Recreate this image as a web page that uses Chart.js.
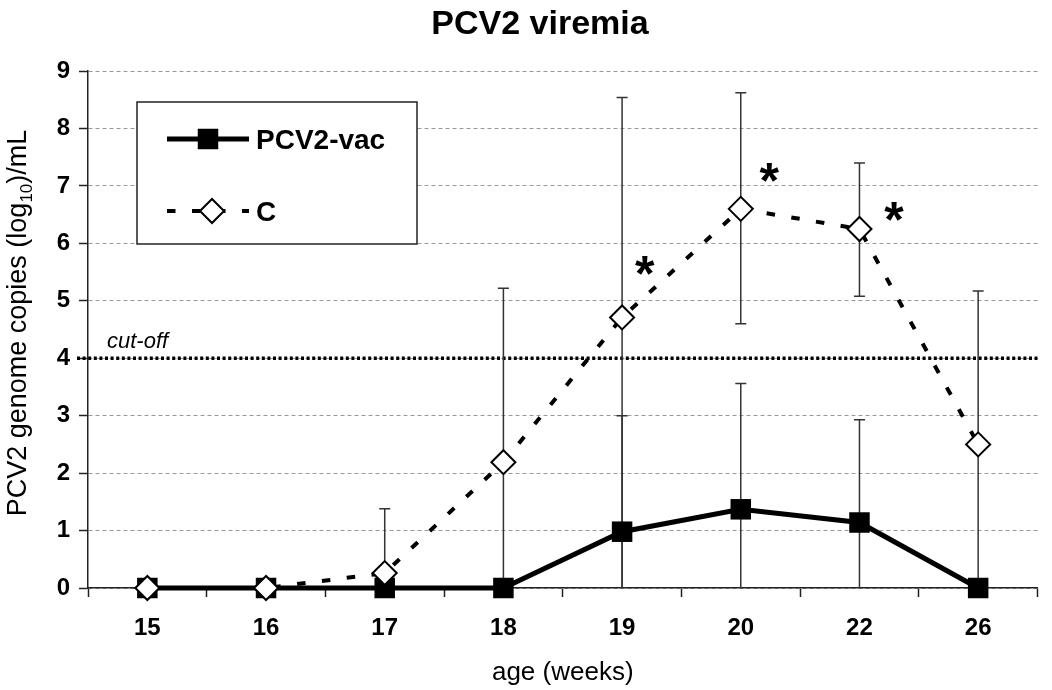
<!DOCTYPE html>
<html>
<head>
<meta charset="utf-8">
<script src="https://cdn.jsdelivr.net/npm/chart.js@4.4.1/dist/chart.umd.min.js"></script>
<style>
    html, body { margin: 0; padding: 0; background: #fff; }
    #wrap { width: 1052px; height: 690px; }
</style>
</head>
<body>
<div id="wrap"><canvas id="viremiaChart" width="1052" height="690"></canvas></div>
<script>
// values (log10 copies / mL)
const weeks = ["15", "16", "17", "18", "19", "20", "22", "26"];
const vacMean = [0, 0, 0, 0, 0.98, 1.37, 1.14, 0];
const vacHigh = [null, null, null, null, 3.0, 3.56, 2.93, null];
const vacLow = [null, null, null, null, 0, 0, 0, null];
const ctrlMean = [0, 0, 0.26, 2.19, 4.71, 6.60, 6.25, 2.50];
const ctrlHigh = [null, null, 1.38, 5.22, 8.54, 8.62, 7.40, 5.17];
const ctrlLow = [null, null, 0, 0, 0, 4.60, 5.08, 0];
const yTicks = [0, 1, 2, 3, 4, 5, 6, 7, 8, 9];
const cutOff = 4;
// significance marks, x in category units
const starX = [4.19, 5.24, 6.29];
const starY = [5.65, 7.28, 6.60];

const FONT = "'Liberation Sans', Arial, sans-serif";

const errorBars = {
    id: "errorBars",
    beforeDatasetsDraw(chart) {
        const ctx = chart.ctx;
        const xs = chart.scales.x, ys = chart.scales.y;
        const area = chart.chartArea;

        // cut-off line
        ctx.save();
        ctx.strokeStyle = "#000";
        ctx.lineWidth = 3.5;
        ctx.setLineDash([3, 2.6]);
        const cy = ys.getPixelForValue(cutOff);
        ctx.beginPath();
        ctx.moveTo(area.left - 11, cy);
        ctx.lineTo(area.right, cy);
        ctx.stroke();
        ctx.setLineDash([]);
        ctx.fillStyle = "#000";
        ctx.font = "italic 22px " + FONT;
        ctx.textBaseline = "alphabetic";
        ctx.fillText("cut-off", area.left + 19, cy - 10);
        ctx.restore();

        ctx.save();
        ctx.strokeStyle = "#333";
        ctx.lineWidth = 1.5;
        const draw = (means, highs, lows) => {
            means.forEach((m, i) => {
                const px = xs.getPixelForValue(i);
                const py = ys.getPixelForValue(m);
                [highs[i], lows[i]].forEach(v => {
                    if (v == null) return;
                    const ey = ys.getPixelForValue(v);
                    ctx.beginPath();
                    ctx.moveTo(px, py);
                    ctx.lineTo(px, ey);
                    if (v > 0) {
                        ctx.moveTo(px - 5.5, ey);
                        ctx.lineTo(px + 5.5, ey);
                    }
                    ctx.stroke();
                });
            });
        };
        draw(vacMean, vacHigh, vacLow);
        draw(ctrlMean, ctrlHigh, ctrlLow);
        ctx.restore();
    },
    afterDatasetsDraw(chart) {
        const ctx = chart.ctx;
        const xs = chart.scales.x, ys = chart.scales.y;
        ctx.save();
        ctx.fillStyle = "#000";
        ctx.font = "bold 50px " + FONT;
        ctx.textAlign = "center";
        ctx.textBaseline = "alphabetic";
        starX.forEach((sx, i) => {
            ctx.fillText("*", xs.getPixelForValue(sx), ys.getPixelForValue(starY[i]) + 28);
        });
        ctx.restore();
    }
};

const decorations = {
    id: "decorations",
    afterDraw(chart) {
        const ctx = chart.ctx;
        const area = chart.chartArea;
        ctx.save();
        ctx.fillStyle = "#000";

        // title
        ctx.font = "bold 34px " + FONT;
        ctx.textAlign = "center";
        ctx.textBaseline = "alphabetic";
        ctx.fillText("PCV2 viremia", 540, 34);

        // x title
        ctx.font = "26px " + FONT;
        ctx.fillText("age (weeks)", (area.left + area.right) / 2, 680);

        // y title with subscript
        const parts = [["PCV2 genome copies (log", 27, 0], ["10", 17, 6], [")/mL", 27, 0]];
        let total = 0;
        parts.forEach(p => { ctx.font = p[1] + "px " + FONT; total += ctx.measureText(p[0]).width; });
        ctx.translate(26, 323);
        ctx.rotate(-Math.PI / 2);
        ctx.textAlign = "left";
        let tx = -total / 2;
        parts.forEach(p => {
            ctx.font = p[1] + "px " + FONT;
            ctx.fillText(p[0], tx, p[2]);
            tx += ctx.measureText(p[0]).width;
        });
        ctx.setTransform(1, 0, 0, 1, 0, 0);

        // legend
        const bx = 137, by = 102, bw = 280, bh = 142;
        ctx.fillStyle = "#fff";
        ctx.fillRect(bx, by, bw, bh);
        ctx.strokeStyle = "#222";
        ctx.lineWidth = 1.5;
        ctx.strokeRect(bx, by, bw, bh);

        const rows = [
            { ds: chart.data.datasets[1], y: 139, mx: 208, dashOffset: 0 },
            { ds: chart.data.datasets[0], y: 211, mx: 212, dashOffset: 0 }
        ];
        rows.forEach(r => {
            ctx.save();
            ctx.strokeStyle = r.ds.borderColor;
            ctx.lineWidth = r.ds.borderWidth;
            ctx.setLineDash(r.ds.borderDash || []);
            ctx.lineDashOffset = r.dashOffset;
            ctx.beginPath();
            ctx.moveTo(167, r.y);
            ctx.lineTo(249, r.y);
            ctx.stroke();
            ctx.restore();

            ctx.save();
            ctx.fillStyle = r.ds.pointBackgroundColor;
            ctx.strokeStyle = r.ds.pointBorderColor;
            ctx.lineWidth = r.ds.pointBorderWidth;
            Chart.helpers.drawPoint(ctx, {
                pointStyle: r.ds.pointStyle,
                radius: r.ds.pointRadius,
                borderWidth: r.ds.pointBorderWidth,
                rotation: 0
            }, r.mx, r.y);
            ctx.restore();

            ctx.save();
            ctx.fillStyle = "#000";
            ctx.font = "bold 28px " + FONT;
            ctx.textBaseline = "alphabetic";
            ctx.fillText(r.ds.label, 256, r.y + 10);
            ctx.restore();
        });
        ctx.restore();
    }
};

const ctx = document.getElementById("viremiaChart").getContext("2d");
window.viremiaChart = new Chart(ctx, {
    type: "line",
    data: {
        labels: weeks,
        datasets: [
            {
                label: "C",
                data: ctrlMean,
                borderColor: "#000",
                borderWidth: 4,
                borderDash: [8.5, 16.5],
                pointStyle: "rectRot",
                pointRadius: 12,
                pointBackgroundColor: "#fff",
                pointBorderColor: "#000",
                pointBorderWidth: 2,
                tension: 0,
                clip: false
            },
            {
                label: "PCV2-vac",
                data: vacMean,
                borderColor: "#000",
                borderWidth: 5,
                pointStyle: "rect",
                pointRadius: 14.5,
                pointBackgroundColor: "#000",
                pointBorderColor: "#000",
                pointBorderWidth: 0,
                tension: 0,
                clip: false
            }
        ]
    },
    options: {
        responsive: false,
        animation: false,
        layout: { padding: { left: 0, top: 71, right: 5, bottom: 0 } },
        plugins: {
            legend: { display: false },
            tooltip: { enabled: false },
            title: { display: false }
        },
        scales: {
            x: {
                type: "category",
                offset: true,
                afterFit: s => { s.height = 102; },
                grid: { display: true, drawOnChartArea: false, offset: true, tickLength: 9, tickColor: "#222", tickWidth: 1.5 },
                border: { color: "#222", width: 1.5 },
                ticks: { color: "#000", font: { family: FONT, size: 24, weight: "bold" }, padding: 17 }
            },
            y: {
                min: 0,
                max: 9,
                afterFit: s => { s.width = 88; },
                afterBuildTicks: s => { s.ticks = yTicks.map(v => ({ value: v })); },
                grid: { color: "#999", lineWidth: 1, tickLength: 9, tickColor: "#222", tickWidth: 1.5, tickBorderDash: [] },
                border: { color: "#222", width: 1.5, dash: [4, 3] },
                ticks: { color: "#000", font: { family: FONT, size: 24, weight: "bold" }, padding: 9 }
            }
        }
    },
    plugins: [errorBars, decorations]
});
</script>
</body>
</html>
